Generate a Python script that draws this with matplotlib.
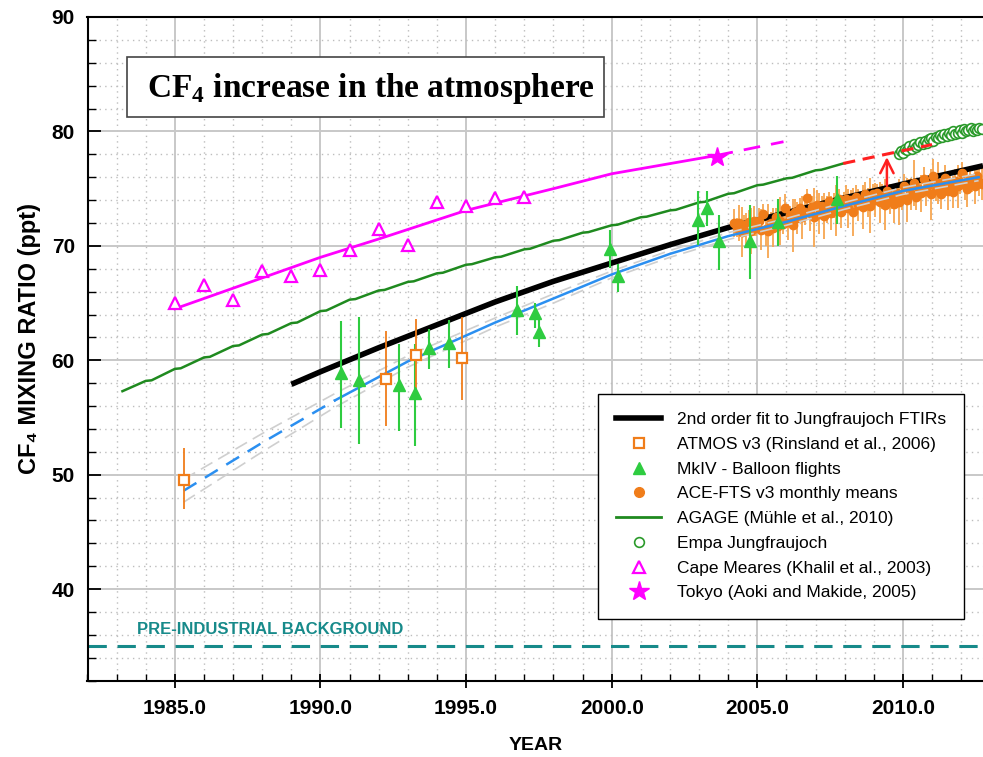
import numpy as np
import matplotlib
matplotlib.use("Agg")
import matplotlib.pyplot as plt
from matplotlib.lines import Line2D
from matplotlib.patches import Rectangle
from matplotlib.ticker import MultipleLocator, FormatStrFormatter

plt.rcParams['font.family'] = ['Liberation Sans', 'DejaVu Sans']
plt.rcParams['mathtext.fontset'] = 'custom'
plt.rcParams['mathtext.rm'] = 'Liberation Serif:bold'
plt.rcParams['mathtext.bf'] = 'Liberation Serif:bold'

# ---- data ----
fit_year = [1989.0, 1990, 1992, 1994, 1996, 1998, 2000, 2002, 2004, 2006, 2008, 2010, 2012.75]
fit_val = [57.9, 59.0, 61.1, 63.1, 65.1, 66.9, 68.5, 70.1, 71.6, 72.9, 74.2, 75.4, 77.0]

blue_year = [1985.3, 1988, 1990.5, 1993, 1996, 1998, 2000, 2002, 2004, 2006, 2008, 2010, 2012.6]
blue_val = [48.6, 52.8, 56.5, 59.9, 63.3, 65.4, 67.5, 69.3, 70.85, 72.1, 73.5, 74.8, 76.0]
blue_upper = [49.6, 53.6, 57.1, 60.4, 63.7, 65.8, 67.8, 69.6, 71.15, 72.4, 73.8, 75.1, 76.3]
blue_lower = [47.6, 52.0, 55.9, 59.4, 62.9, 65.0, 67.2, 69.0, 70.55, 71.8, 73.2, 74.5, 75.7]
blue_dash_end = 1990.5

atmos_year = [1985.31, 1992.24, 1993.28, 1994.85]
atmos_val = [49.5, 58.4, 60.5, 60.2]
atmos_lo = [47.0, 54.3, 57.5, 56.5]
atmos_hi = [52.3, 62.6, 63.6, 63.8]

mkiv_year = [1990.72, 1991.33, 1992.7, 1993.24, 1993.74, 1994.4, 1996.75, 1997.35, 1997.52,
             1999.93, 2000.2, 2002.96, 2003.27, 2003.7, 2004.75, 2005.7, 2007.74]
mkiv_val = [58.9, 58.3, 57.85, 57.1, 61.1, 61.5, 64.4, 64.1, 62.5,
            69.7, 67.4, 72.3, 73.35, 70.4, 70.4, 72.1, 74.1]
mkiv_lo = [54.05, 52.7, 53.85, 52.55, 59.2, 59.3, 62.2, 62.8, 61.2,
           68.1, 66.0, 70.1, 71.75, 67.9, 67.1, 70.0, 71.9]
mkiv_hi = [63.4, 63.8, 61.45, 61.4, 62.7, 63.55, 66.5, 65.0, 63.7,
           71.4, 68.4, 74.8, 74.8, 72.7, 73.6, 74.1, 76.1]

ace_year = np.arange(2004.21, 2012.75, 1 / 12)
ace_val = [72.0, 71.6, 72.0, 71.2, 71.8, 71.5, 72.1, 71.3, 72.2, 71.6,
           72.2, 71.4, 72.8, 71.45, 71.3, 72.0, 71.6, 72.5, 71.7, 72.2, 71.9, 73.35,
           72.1, 72.7, 71.8, 73.0, 72.4, 73.3, 72.5, 73.0, 74.2, 72.9, 73.4, 72.5,
           73.6, 72.8, 73.5, 72.6, 73.2, 73.9, 72.9, 73.5, 73.1, 74.1, 73.0, 73.7,
           74.1, 73.3, 74.0, 73.0, 74.3, 73.6, 73.9, 73.4, 74.5, 73.8, 73.5, 74.5,
           74.0, 74.6, 73.8, 74.3, 73.6, 74.8, 74.1, 74.2, 73.7, 74.6, 73.8, 74.3,
           75.25, 74.0, 75.0, 74.5, 75.5, 74.3, 75.0, 74.6, 75.8, 74.8, 75.3, 74.5,
           76.1, 74.9, 75.5, 74.5, 75.1, 75.9, 74.8, 75.4, 74.7, 75.7, 75.2, 75.6,
           76.4, 75.3, 75.0, 75.8, 75.5, 75.2, 76.1, 75.6, 75.4]
ace_err = [1.2, 0.8, 1.6, 2.2, 0.9, 1.4, 1.0, 2.0, 1.3, 0.7,
           1.1, 1.8, 0.9, 1.5, 2.4, 1.0, 1.7, 0.8, 1.3, 2.1, 0.9, 1.2,
           1.6, 0.8, 2.3, 1.1, 1.4, 0.9, 1.9, 1.2, 0.8, 1.6, 1.0, 2.6,
           1.3, 1.8, 0.9, 2.0, 1.2, 0.8, 1.5, 1.1, 2.2, 0.9, 1.4, 1.0,
           1.2, 1.7, 0.9, 2.1, 1.0, 1.4, 0.8, 1.9, 1.1, 1.3, 2.4, 0.9,
           1.5, 0.8, 1.8, 1.1, 2.2, 0.9, 1.3, 1.0, 1.7, 0.8, 2.0, 1.2,
           1.0, 1.9, 0.8, 1.4, 2.0, 1.2, 0.9, 1.6, 1.1, 1.3, 0.8, 2.2,
           1.5, 1.0, 1.8, 1.3, 0.9, 1.2, 1.7, 0.8, 1.4, 1.0, 1.9, 1.1,
           0.9, 1.3, 1.6, 1.0, 0.8, 1.5, 0.9, 1.2, 1.4]

agage_year = [1983.2, 1984.0, 1984.2, 1985.0, 1985.2, 1986.0, 1986.2, 1987.0, 1987.2,
              1988.0, 1988.2, 1989.0, 1989.2, 1990.0, 1990.2, 1991.0, 1991.2, 1992.0, 1992.2,
              1993.0, 1993.2, 1994.0, 1994.2, 1995.0, 1995.2, 1996.0, 1996.2, 1997.0, 1997.2,
              1998.0, 1998.2, 1999.0, 1999.2, 2000.0, 2000.2, 2001.0, 2001.2, 2002.0, 2002.2,
              2003.0, 2003.2, 2004.0, 2004.2, 2005.0, 2005.2, 2006.0, 2006.2, 2007.0, 2007.2,
              2007.95]
agage_val = [57.3, 58.2, 58.25, 59.25, 59.3, 60.25, 60.3, 61.25, 61.3,
             62.25, 62.3, 63.25, 63.3, 64.3, 64.35, 65.3, 65.35, 66.1, 66.15,
             66.85, 66.9, 67.6, 67.65, 68.35, 68.4, 69.0, 69.05, 69.7, 69.75,
             70.45, 70.5, 71.15, 71.2, 71.8, 71.85, 72.5, 72.55, 73.1, 73.15,
             73.8, 73.85, 74.55, 74.6, 75.3, 75.35, 75.9, 75.95, 76.6, 76.65,
             77.2]
agage_ext_year = [2007.95, 2009.5, 2011.0]
agage_ext_val = [77.2, 78.05, 78.85]

empa_year = np.arange(2009.85, 2012.75, 0.075)
empa_val = [78.0, 78.3, 78.1, 78.5, 78.4, 78.7, 78.5, 78.9, 78.6, 78.8,
            79.1, 78.9, 79.2, 79.0, 79.3, 79.4, 79.2, 79.5, 79.4, 79.7,
            79.5, 79.8, 79.6, 79.9, 79.7, 80.0, 79.8, 79.9, 80.1, 79.9,
            80.2, 80.0, 80.1, 80.3, 80.0, 80.2, 80.1, 80.3, 80.2]

cape_year = [1985.0, 1986.0, 1987.0, 1988.0, 1989.0, 1990.0, 1991.0, 1992.0, 1993.0,
             1994.0, 1995.0, 1996.0, 1997.0]
cape_val = [65.0, 66.6, 65.3, 67.8, 67.4, 67.9, 69.6, 71.5, 70.1, 73.8, 73.5, 74.2, 74.3]

cape_fit_year = [1985.0, 1987, 1990, 1992, 1995, 1998, 2000, 2003.6]
cape_fit_val = [64.5, 66.3, 69.0, 70.6, 73.1, 75.0, 76.3, 77.9]
cape_ext_year = [2003.6, 2005.9]
cape_ext_val = [77.9, 79.1]

tokyo_year = [2003.6]
tokyo_val = [77.8]

arrow_year = 2009.45
arrow_from, arrow_to = 75.0, 78.0
preind = 35.0

# ---- colours ----
c_mag = '#ff00ff'
c_agage = '#1f8a1f'
c_mkiv = '#2ecc40'
c_empa = '#2a9a2a'
c_blue = '#2b8ff0'
c_orange = '#f07d1a'
c_ace_bar = '#f7a650'
c_teal = '#178a8a'

fig = plt.figure(figsize=(9.83, 7.57), dpi=100)
ax = fig.add_axes([87.5 / 983, 1 - 680.7 / 757, 1 - 87.5 / 983, (680.7 - 17) / 757])
ax.set_xlim(1982, 2012.75)
ax.set_ylim(32, 90)

ax.xaxis.set_major_locator(MultipleLocator(5))
ax.xaxis.set_minor_locator(MultipleLocator(1))
ax.yaxis.set_major_locator(MultipleLocator(10))
ax.yaxis.set_minor_locator(MultipleLocator(2))
ax.xaxis.set_major_formatter(FormatStrFormatter('%.1f'))
ax.grid(which='major', color='#c8c8c8', lw=1.4, ls='-')
ax.grid(which='minor', color='#bdbdbd', lw=1.0, ls=(0, (1, 3)))
ax.set_axisbelow(True)
ax.tick_params(axis='y', which='major', direction='in', length=9, width=1.3, labelsize=15, pad=9)
ax.tick_params(axis='y', which='minor', direction='in', length=5.5, width=1.0)
ax.tick_params(axis='x', which='major', direction='inout', length=10, width=1.3, labelsize=15, pad=8)
ax.tick_params(axis='x', which='minor', direction='in', length=5, width=1.0)
for lab in ax.get_xticklabels() + ax.get_yticklabels():
    lab.set_fontweight('bold')
for s in ['left', 'bottom', 'top']:
    ax.spines[s].set_linewidth(1.5)
ax.spines['right'].set_visible(False)

# pre-industrial background
ax.axhline(preind, color=c_teal, lw=2.2, ls=(0, (6, 3.5)), zorder=2)
ax.text(1983.7, 36.45, 'PRE-INDUSTRIAL BACKGROUND', color=c_teal, fontsize=12,
        fontweight='bold', va='center', ha='left')

# Cape Meares + Tokyo
ax.plot(cape_fit_year, cape_fit_val, color=c_mag, lw=2, zorder=3)
ax.plot(cape_ext_year, cape_ext_val, color=c_mag, lw=2, ls=(0, (6, 4)), zorder=3)
ax.plot(cape_year, cape_val, ls='none', marker='^', ms=8, mfc='white', mec=c_mag, mew=1.6, zorder=4)
ax.plot(tokyo_year, tokyo_val, ls='none', marker='*', ms=15, color=c_mag, zorder=4)

# AGAGE + extrapolation + Empa
ax.plot(agage_year, agage_val, color=c_agage, lw=1.8, zorder=3)
ax.plot(empa_year, empa_val, ls='none', marker='o', ms=7, mfc='white', mec=c_empa, mew=1.2, zorder=4)
ax.plot(agage_ext_year, agage_ext_val, color='#ff2020', lw=2.2, ls=(0, (4, 2.5)), zorder=5)
ax.annotate('', xy=(arrow_year, arrow_to), xytext=(arrow_year, arrow_from),
            arrowprops=dict(arrowstyle='->', color='#ff2020', lw=1.8, mutation_scale=24), zorder=8)

# ACE-FTS error bars below the fit line, markers above
ax.errorbar(ace_year, ace_val, yerr=ace_err, ls='none', ecolor=c_ace_bar, elinewidth=1.3,
            capsize=0, zorder=3.5)

# Jungfraujoch fit
ax.plot(fit_year, fit_val, color='black', lw=4, solid_capstyle='butt', zorder=4)

ax.plot(ace_year, ace_val, ls='none', marker='o', ms=6, color=c_orange, zorder=4.5)

# blue fit with uncertainty band
ax.plot(blue_year, blue_upper, color='#cfcfcf', lw=1.2, ls=(0, (8, 4)), zorder=5)
ax.plot(blue_year, blue_lower, color='#cfcfcf', lw=1.2, ls=(0, (8, 4)), zorder=5)
by = np.array(blue_year)
bv = np.array(blue_val)
k = np.searchsorted(by, blue_dash_end)
ax.plot(by[:k + 1], bv[:k + 1], color=c_blue, lw=1.8, ls=(0, (6, 4)), zorder=6)
ax.plot(by[k:], bv[k:], color=c_blue, lw=1.8, zorder=6)

# MkIV balloon
mk_err = [np.array(mkiv_val) - np.array(mkiv_lo), np.array(mkiv_hi) - np.array(mkiv_val)]
ax.errorbar(mkiv_year, mkiv_val, yerr=mk_err, ls='none', marker='^', ms=9, color=c_mkiv,
            ecolor=c_mkiv, elinewidth=1.5, capsize=0, zorder=7)

# ATMOS
at_err = [np.array(atmos_val) - np.array(atmos_lo), np.array(atmos_hi) - np.array(atmos_val)]
ax.errorbar(atmos_year, atmos_val, yerr=at_err, ls='none', marker='s', ms=7, mfc='white',
            mec=c_orange, mew=1.6, ecolor=c_orange, elinewidth=1.3, capsize=0, zorder=7)

ax.set_ylabel('CF\u2084 MIXING RATIO (ppt)', fontsize=17, fontweight='bold')
ax.yaxis.set_label_coords(-0.052, 0.515)
ax.set_xlabel('YEAR', fontsize=14, fontweight='bold', labelpad=14)

handles = [
    Line2D([], [], color='black', lw=4),
    Line2D([], [], ls='none', marker='s', ms=7, mfc='white', mec=c_orange, mew=1.6),
    Line2D([], [], ls='none', marker='^', ms=9, color=c_mkiv),
    Line2D([], [], ls='none', marker='o', ms=7, color=c_orange),
    Line2D([], [], color=c_agage, lw=2),
    Line2D([], [], ls='none', marker='o', ms=7, mfc='white', mec=c_empa, mew=1.2),
    Line2D([], [], ls='none', marker='^', ms=8, mfc='white', mec=c_mag, mew=1.6),
    Line2D([], [], ls='none', marker='*', ms=15, color=c_mag),
]
labels = ['2nd order fit to Jungfraujoch FTIRs', 'ATMOS v3 (Rinsland et al., 2006)',
          'MkIV - Balloon flights', 'ACE-FTS v3 monthly means', 'AGAGE (M\u00fchle et al., 2010)',
          'Empa Jungfraujoch', 'Cape Meares (Khalil et al., 2003)', 'Tokyo (Aoki and Makide, 2005)']
leg = ax.legend(handles, labels, loc='upper left', bbox_to_anchor=(598 / 983, 1 - 394 / 757),
                bbox_transform=fig.transFigure, borderaxespad=0, fontsize=12.5, frameon=True,
                fancybox=False, edgecolor='black', framealpha=1, handlelength=2.6,
                handletextpad=0.9, labelspacing=0.55, borderpad=1.05)
leg.get_frame().set_linewidth(1.0)
leg.set_zorder(10)

# title box
fig.add_artist(Rectangle((127 / 983, 1 - 117 / 757), 477 / 983, 60 / 757, transform=fig.transFigure,
                         facecolor='white', edgecolor='#444444', lw=1.2, zorder=5))
fig.text(371 / 983, 1 - 88 / 757, r'CF$_{4}$ increase in the atmosphere', fontsize=24,
         fontfamily='Liberation Serif', fontweight='bold', ha='center', va='center', zorder=6)

fig.savefig('out.png', dpi=100)
